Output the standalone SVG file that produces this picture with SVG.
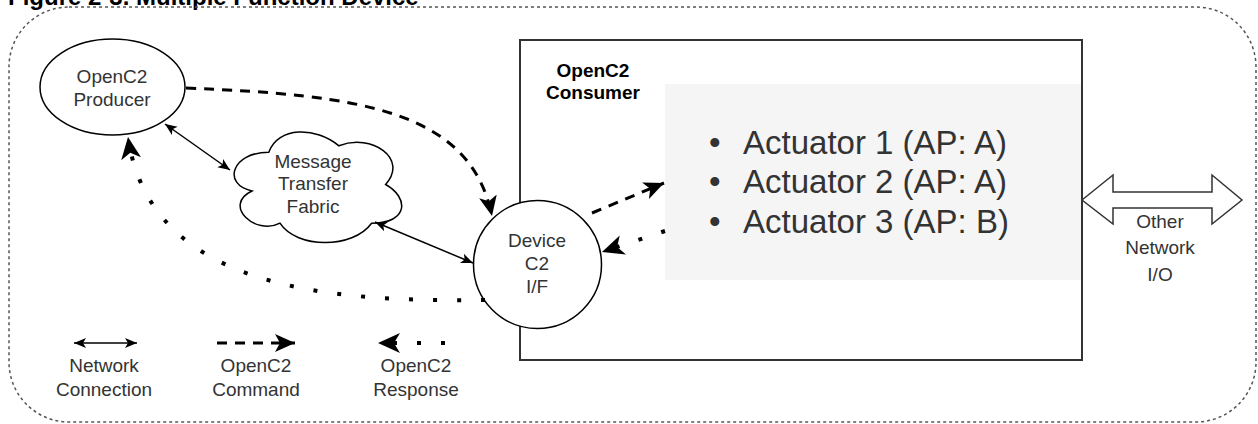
<svg xmlns="http://www.w3.org/2000/svg" width="1258" height="424" viewBox="0 0 1258 424">
  <style>
    .lbl { font-family: "Liberation Sans", Arial, sans-serif; font-size: 19px; fill: #333; text-anchor: middle; }
    .bold { font-family: "Liberation Sans", Arial, sans-serif; font-weight: bold; fill: #000; }
    .shape { fill: #fff; stroke: #000; stroke-width: 1.5; }
    .net { fill: none; stroke: #000; stroke-width: 1.5; }
    .cmd { fill: none; stroke: #000; stroke-width: 3; stroke-dasharray: 10 8; }
    .rsp { fill: none; stroke: #000; stroke-width: 4; stroke-dasharray: 4 20; }
    .act { font-family: "Liberation Sans", Arial, sans-serif; font-size: 33px; fill: #333; }
  </style>
  <defs>
    <marker id="netArrow" markerUnits="userSpaceOnUse" markerWidth="14" markerHeight="12" refX="12" refY="5" orient="auto-start-reverse" viewBox="0 0 14 10">
      <path d="M12,5 L0,0 L3,5 L0,10 Z" fill="#000"/>
    </marker>
    <marker id="cmdArrow" markerUnits="userSpaceOnUse" markerWidth="22" markerHeight="20" refX="20" refY="9" orient="auto" viewBox="0 0 22 18">
      <path d="M20,9 L0,0 L5,9 L0,18 Z" fill="#000"/>
    </marker>
    <marker id="rspArrow" markerUnits="userSpaceOnUse" markerWidth="24" markerHeight="22" refX="22" refY="10" orient="auto" viewBox="0 0 24 20">
      <path d="M22,10 L0,0 L6,10 L0,20 Z" fill="#000"/>
    </marker>
  </defs>

  <rect width="1258" height="424" fill="#fff"/>

  <!-- title (partially cut) -->
  <text class="bold" x="8" y="5" font-size="24">Figure 2-3. Multiple Function Device</text>

  <!-- outer dashed boundary -->
  <rect x="9" y="7" width="1247" height="415" rx="60" ry="60" fill="none" stroke="#555" stroke-width="1.5" stroke-dasharray="3 3"/>

  <!-- consumer -->
  <g id="consumer">
    <rect x="520" y="40" width="562" height="320" fill="#fff" stroke="#333" stroke-width="2"/>
    <text class="bold" font-size="19" text-anchor="middle"><tspan x="593" y="77">OpenC2</tspan><tspan x="593" y="99">Consumer</tspan></text>
  </g>

  <g id="actuators">
    <rect x="665" y="84" width="416" height="196" fill="#f5f5f5"/>
    <text class="act"><tspan x="709" y="154">•</tspan><tspan x="743" y="154">Actuator 1 (AP: A)</tspan></text>
    <text class="act"><tspan x="709" y="193">•</tspan><tspan x="743" y="193">Actuator 2 (AP: A)</tspan></text>
    <text class="act"><tspan x="709" y="233">•</tspan><tspan x="743" y="233">Actuator 3 (AP: B)</tspan></text>
  </g>

  <g id="producer">
    <ellipse class="shape" cx="112.5" cy="87" rx="72.5" ry="48"/>
    <text class="lbl"><tspan x="112" y="83">OpenC2</tspan><tspan x="112" y="106">Producer</tspan></text>
  </g>

  <g id="fabric">
    <path class="shape" d="M268.75,152.25 C231.35,152.25 222,184.5 251.92,190.95 C222,205.14 255.66,236.1 279.97,223.2 C296.8,249 352.9,249 371.6,223.2 C409,223.2 409,197.4 385.6,184.5 C409,158.7 371.6,132.9 338.9,145.8 C315.5,126.45 278.1,126.45 268.75,152.25 Z"/>
    <text class="lbl"><tspan x="313" y="168">Message</tspan><tspan x="313" y="190">Transfer</tspan><tspan x="313" y="213">Fabric</tspan></text>
  </g>

  <g id="device">
    <circle class="shape" cx="537.5" cy="264.5" r="64"/>
    <text class="lbl"><tspan x="537" y="247">Device</tspan><tspan x="537" y="270">C2</tspan><tspan x="537" y="293">I/F</tspan></text>
  </g>

  <g id="other-network">
    <polygon points="1082,200 1113,175 1113,192 1212,192 1212,175 1242,200 1212,224 1212,208 1113,208 1113,224" fill="#fff" stroke="#333" stroke-width="1.5"/>
    <text class="lbl"><tspan x="1160" y="228">Other</tspan><tspan x="1160" y="254">Network</tspan><tspan x="1160" y="281">I/O</tspan></text>
  </g>

  <g id="connectors">
    <path class="net" d="M165,124 L230,170" marker-start="url(#netArrow)" marker-end="url(#netArrow)"/>
    <path class="net" d="M375,222 L473,263" marker-start="url(#netArrow)" marker-end="url(#netArrow)"/>
    <path class="cmd" d="M186,88 C360,95 470,110 492,216" marker-end="url(#cmdArrow)"/>
    <path class="cmd" d="M592,213 L664,183" marker-end="url(#cmdArrow)"/>
    <path class="rsp" d="M665,231 L602,252" marker-end="url(#rspArrow)"/>
    <path class="rsp" d="M485,300 C330,302 150,290 128,137" marker-end="url(#rspArrow)"/>
  </g>

  <g id="legend">
    <path class="net" d="M74,343 L137,343" marker-start="url(#netArrow)" marker-end="url(#netArrow)"/>
    <text class="lbl"><tspan x="104" y="372">Network</tspan><tspan x="104" y="396">Connection</tspan></text>
    <path class="cmd" d="M217,343 L295,343" marker-end="url(#cmdArrow)"/>
    <text class="lbl"><tspan x="256" y="372">OpenC2</tspan><tspan x="256" y="396">Command</tspan></text>
    <path class="rsp" d="M445,343 L378,343" marker-end="url(#rspArrow)"/>
    <text class="lbl"><tspan x="416" y="372">OpenC2</tspan><tspan x="416" y="396">Response</tspan></text>
  </g>
</svg>
